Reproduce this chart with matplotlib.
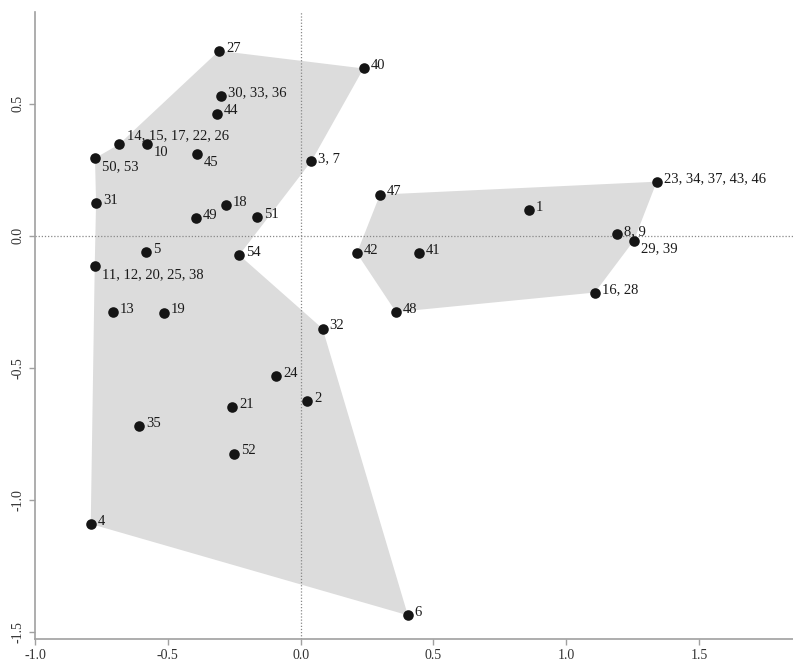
import numpy as np
import matplotlib.pyplot as plt

plt.rcParams['font.family'] = ['Liberation Serif', 'DejaVu Serif']
plt.rcParams['axes.unicode_minus'] = False

# point labels and coordinates (first two dimensions)
labels = ["27", "40", "30, 33, 36", "44", "14, 15, 17, 22, 26", "10", "45",
          "50, 53", "3, 7", "31", "18", "49", "51", "5", "54",
          "11, 12, 20, 25, 38", "13", "19", "32", "24", "2", "21", "35", "52",
          "4", "6",
          "47", "42", "41", "48", "1", "8, 9", "29, 39", "16, 28",
          "23, 34, 37, 43, 46"]
dim1 = [-0.307, 0.237, -0.301, -0.314, -0.684, -0.580, -0.389,
        -0.774, 0.041, -0.770, -0.280, -0.395, -0.163, -0.582, -0.231,
        -0.775, -0.707, -0.516, 0.083, -0.092, 0.024, -0.258, -0.608, -0.252,
        -0.790, 0.404,
        0.299, 0.212, 0.446, 0.359, 0.859, 1.192, 1.255, 1.108,
        1.341]
dim2 = [0.701, 0.634, 0.530, 0.463, 0.346, 0.346, 0.309,
        0.294, 0.283, 0.125, 0.116, 0.068, 0.071, -0.063, -0.073,
        -0.114, -0.289, -0.291, -0.352, -0.533, -0.626, -0.650, -0.720, -0.825,
        -1.092, -1.438,
        0.156, -0.066, -0.067, -0.289, 0.096, 0.006, -0.018, -0.215,
        0.205]

# outline of each group, as point labels in drawing order
group_a = ["27", "40", "3, 7", "54", "32", "6", "4", "11, 12, 20, 25, 38",
           "31", "50, 53", "14, 15, 17, 22, 26"]
group_b = ["47", "23, 34, 37, 43, 46", "29, 39", "16, 28", "48", "42"]

below = ["10", "45", "50, 53", "11, 12, 20, 25, 38", "29, 39"]
above = ["14, 15, 17, 22, 26"]

pos = {lab: (x, y) for lab, x, y in zip(labels, dim1, dim2)}

fig = plt.figure(figsize=(7.93, 6.66), dpi=100)
ax = fig.add_axes([0.0441, 0.0405, 0.9559, 0.9415])

for grp in (group_a, group_b):
    pts = np.array([pos[lab] for lab in grp])
    ax.fill(pts[:, 0], pts[:, 1], color='#dcdcdc', lw=0, zorder=1)

ax.axhline(0, color='#888888', lw=0.9, ls=(0, (1, 1.5)), zorder=2)
ax.axvline(0, color='#888888', lw=0.9, ls=(0, (1, 1.5)), zorder=2)

ax.scatter(dim1, dim2, s=58, color='#151515', lw=0, zorder=3)

for lab, x, y in zip(labels, dim1, dim2):
    if lab in below:
        off = (5, -6)
    elif lab in above:
        off = (6, 6)
    else:
        off = (5, 2)
    ax.annotate(lab, (x, y), xytext=off, textcoords='offset points',
                ha='left', va='center', fontsize=10.5, color='#1a1a1a',
                zorder=4)

ax.set_xlim(-1.0, 1.854)
ax.set_ylim(-1.528, 0.848)

for side in ('top', 'right'):
    ax.spines[side].set_visible(False)
for side in ('left', 'bottom'):
    ax.spines[side].set_color('#a0a0a0')
    ax.spines[side].set_linewidth(1.2)

ax.set_xticks([-1.0, -0.5, 0.0, 0.5, 1.0, 1.5])
ax.set_yticks([-1.5, -1.0, -0.5, 0.0, 0.5])
ax.tick_params(direction='out', length=4, width=1, color='#a0a0a0',
               labelsize=10, labelcolor='#333333')
plt.setp(ax.get_yticklabels(), rotation=90, va='center')

fig.savefig('out.png', dpi=100)
